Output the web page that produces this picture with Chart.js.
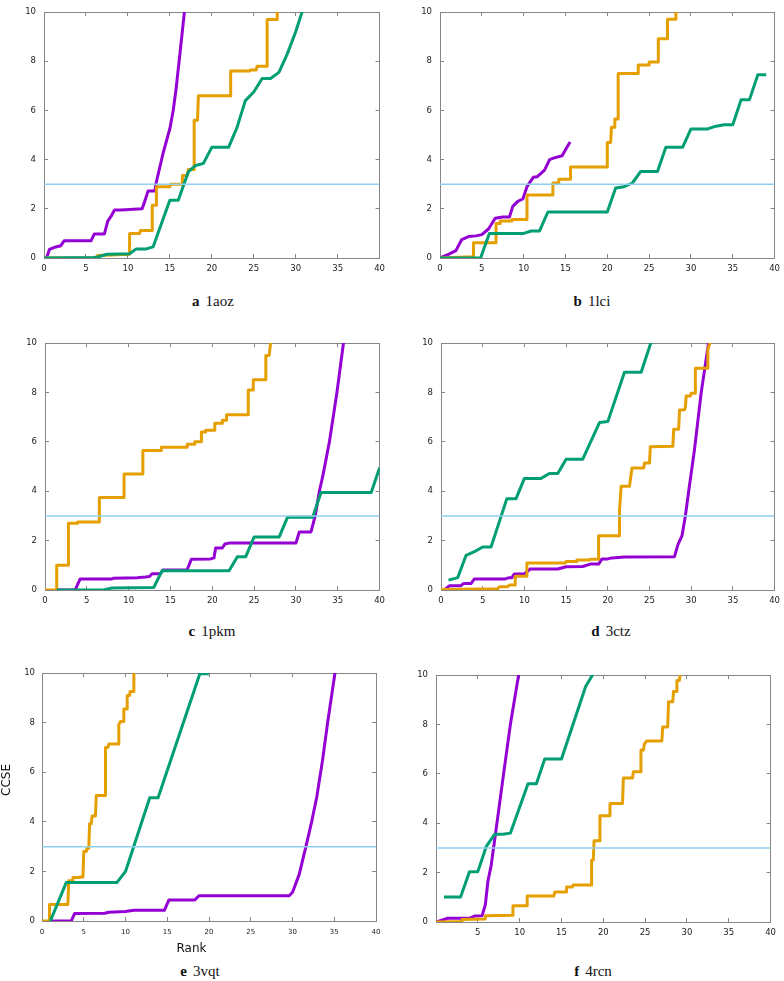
<!DOCTYPE html>
<html><head><meta charset="utf-8">
<script src="https://cdn.jsdelivr.net/npm/chart.js@4.4.0/dist/chart.umd.min.js"></script>
<style>
html,body{margin:0;padding:0;background:#fff;width:784px;height:981px;overflow:hidden;position:relative}
canvas{position:absolute}
.cap{position:absolute;width:200px;text-align:center;font-family:"Liberation Serif","DejaVu Serif",serif;font-size:15px;line-height:15px;color:#111;white-space:nowrap}
.cap b{font-weight:bold;margin-right:6px}
.lab{position:absolute;font-family:"DejaVu Sans",sans-serif;font-size:12px;line-height:12px;color:#111;text-align:center;white-space:nowrap}
</style></head><body>
<script>
// ---------- data (x = rank, y = CCSE) ----------
const xTicks = [0,5,10,15,20,25,30,35,40];
const yTicks = [0,2,4,6,8,10];
const threshold = 3;

const aPurple = [[0.3,0],[0.65,0.35],[1.4,0.45],[2.0,0.5],[2.4,0.7],[5.6,0.7],[6.0,0.98],[7.2,0.98],[7.6,1.5],[8.0,1.7],[8.4,1.95],[9.2,1.95],[11.7,2.0],[12.0,2.3],[12.4,2.72],[13.2,2.72],[13.4,3.1],[14.2,4.27],[15.0,5.26],[15.4,6.0],[15.75,6.9],[16.2,8.3],[16.75,10.05]];
const aOrange = [[0,0],[6.3,0],[6.4,0.1],[8,0.12],[10.2,0.15],[10.2,1.0],[11.4,1.0],[11.5,1.12],[12.9,1.12],[12.9,2.15],[13.4,2.15],[13.4,2.9],[15.0,2.9],[15.1,3.0],[16.5,3.0],[16.5,3.35],[17.1,3.35],[17.2,3.6],[17.9,3.6],[17.9,5.6],[18.3,5.6],[18.4,6.6],[22.2,6.6],[22.25,7.6],[24.5,7.6],[24.6,7.65],[25.3,7.65],[25.4,7.8],[26.6,7.8],[26.6,9.7],[27.8,9.7],[27.8,10.1]];
const aGreen = [[0,0],[6,0.02],[6.5,0.05],[7.5,0.15],[10.2,0.17],[11,0.37],[12.2,0.37],[13,0.45],[15,2.35],[16,2.35],[17.2,3.5],[18,3.75],[19,3.85],[20,4.5],[22,4.5],[23,5.3],[24,6.4],[25,6.75],[26,7.3],[27,7.3],[28,7.55],[29,8.3],[30,9.2],[30.8,10.05]];

const bPurple = [[0,0],[0.3,0.05],[1,0.15],[1.9,0.3],[2.6,0.75],[3.4,0.87],[4.3,0.9],[5.0,0.95],[5.8,1.18],[6.6,1.62],[7.5,1.67],[8.3,1.67],[8.7,2.1],[9.3,2.3],[9.9,2.4],[10.4,2.9],[11.15,3.28],[11.6,3.3],[12.5,3.57],[13.1,4.0],[13.65,4.07],[14.6,4.16],[15.0,4.4],[15.55,4.72]];
const bOrange = [[0,0],[4.0,0.05],[4.0,0.62],[6.7,0.62],[6.7,1.4],[7.2,1.4],[7.2,1.5],[8.5,1.5],[8.6,1.57],[10.4,1.57],[10.4,2.56],[13.5,2.56],[13.5,3.05],[14.2,3.05],[14.2,3.2],[15.6,3.2],[15.6,3.7],[20.0,3.7],[20.0,4.7],[20.4,4.7],[20.5,5.32],[20.9,5.32],[20.9,5.65],[21.3,5.65],[21.3,7.5],[23.7,7.5],[23.7,7.85],[25.0,7.85],[25.0,7.97],[26.1,7.97],[26.1,8.92],[27.2,8.92],[27.2,9.71],[28.1,9.71],[28.2,10.1]];
const bGreen = [[0,0],[4.85,0],[5.9,1.0],[10,1.0],[10.9,1.1],[11.9,1.1],[12.9,1.87],[20,1.87],[21,2.85],[22,2.9],[23,3.05],[24,3.52],[26,3.52],[27,4.5],[29,4.5],[30,5.25],[32,5.25],[33,5.36],[34,5.42],[35,5.42],[36,6.44],[37,6.44],[38,7.45],[39,7.45]];

const cOrange = [[0,0],[1.4,0],[1.4,1.0],[2.8,1.0],[2.8,2.7],[3.9,2.7],[3.9,2.75],[6.5,2.75],[6.5,3.75],[9.45,3.75],[9.45,4.7],[11.7,4.7],[11.7,5.65],[13.9,5.65],[13.9,5.78],[17.0,5.78],[17.0,5.9],[17.9,5.9],[17.9,6.0],[18.7,6.0],[18.7,6.4],[19.2,6.4],[19.2,6.47],[20.3,6.47],[20.3,6.75],[21.2,6.75],[21.2,6.88],[21.7,6.88],[21.7,7.1],[24.3,7.1],[24.3,8.1],[24.9,8.1],[24.9,8.52],[26.4,8.52],[26.4,9.5],[26.8,9.5],[27.0,10.1]];
const cPurple = [[1.4,0],[3.6,0],[4.2,0.45],[8.0,0.45],[8.2,0.48],[11,0.5],[12,0.53],[12.5,0.55],[12.8,0.66],[13.8,0.66],[14.1,0.81],[17.0,0.82],[17.5,1.25],[19.8,1.26],[20.2,1.3],[20.4,1.7],[21.2,1.7],[21.5,1.86],[22,1.9],[30,1.9],[30.4,2.35],[31.8,2.35],[32.3,3.0],[32.8,4.0],[33.2,4.6],[34.0,6.0],[34.9,8.0],[35.7,10.05]];
const cGreen = [[1.4,0],[7,0],[8,0.08],[13,0.1],[14,0.78],[22,0.78],[23,1.35],[24,1.35],[25,2.15],[28,2.15],[29,2.95],[32,2.95],[33,3.95],[39,3.95],[40,4.95]];

const dGreen = [[0.9,0.4],[2,0.5],[3,1.4],[4,1.55],[5,1.74],[6,1.74],[7.9,3.7],[9,3.7],[10,4.52],[12,4.52],[13,4.72],[14,4.72],[15,5.3],[17,5.3],[19,6.78],[20,6.82],[22,8.82],[24,8.82],[25.2,10.05]];
const dOrange = [[0,0.02],[6.8,0.05],[7.0,0.13],[8.0,0.13],[8.2,0.2],[8.9,0.2],[8.9,0.56],[10.3,0.56],[10.3,1.09],[14.9,1.09],[15,1.15],[16.3,1.15],[16.3,1.22],[17.8,1.22],[17.9,1.25],[18.9,1.25],[18.9,2.2],[21.35,2.2],[21.4,3.2],[21.6,4.2],[22.6,4.2],[22.9,4.94],[24.3,4.94],[24.4,5.14],[25.0,5.14],[25.1,5.8],[27.8,5.82],[27.9,6.51],[28.5,6.51],[28.6,7.29],[29.2,7.3],[29.3,7.4],[29.4,7.86],[29.9,7.86],[30.0,7.97],[30.5,7.97],[30.5,8.98],[31.9,8.98],[32.0,9.75],[32.3,10.05]];
const dPurple = [[0.4,0],[1.0,0.17],[2.35,0.17],[2.7,0.26],[3.6,0.26],[4.0,0.45],[7.7,0.45],[8.2,0.5],[8.5,0.5],[8.8,0.65],[10,0.65],[10.7,0.85],[14,0.85],[15,0.94],[17,0.95],[17.9,1.05],[18.9,1.05],[19.3,1.26],[20,1.26],[20.5,1.3],[22,1.34],[28,1.35],[28.4,1.83],[28.9,2.2],[29.3,3.0],[29.7,4.0],[30.4,5.7],[31.2,8.0],[32.1,10.05]];

const eOrange = [[0,0],[0.9,0],[0.9,0.67],[3.1,0.67],[3.2,1.62],[3.6,1.62],[3.7,1.75],[4.5,1.75],[4.5,1.77],[4.9,1.77],[5.0,2.8],[5.3,2.8],[5.4,2.93],[5.6,2.93],[5.7,3.92],[5.9,3.92],[6.0,4.24],[6.4,4.24],[6.5,5.06],[7.55,5.06],[7.6,7.0],[7.9,7.0],[8.0,7.14],[9.15,7.14],[9.2,7.92],[9.4,8.05],[9.75,8.05],[9.8,8.55],[10.2,8.55],[10.2,9.1],[10.5,9.1],[10.55,9.26],[10.9,9.26],[11.0,10.1]];
const eGreen = [[1.0,0],[2.9,1.55],[8.96,1.55],[10,2.0],[12.9,4.97],[13.9,4.97],[18.9,9.97],[20.0,9.97]];
const ePurple = [[1.0,0],[3.5,0],[3.9,0.3],[7.5,0.31],[8,0.35],[10,0.38],[11,0.43],[14.65,0.43],[15.2,0.85],[18.3,0.85],[18.8,1.02],[29.6,1.02],[30,1.16],[30.8,1.88],[31.6,3.0],[32.3,4.02],[32.9,5.0],[33.6,6.5],[34.2,8.0],[35.1,10.05]];

const fGreen = [[0.95,1.01],[2.94,1.01],[4,2.04],[5,2.04],[6,3.05],[7,3.55],[8,3.55],[8.9,3.6],[11,5.6],[12,5.6],[13,6.6],[15,6.6],[17.9,9.55],[18.8,10.05]];
const fPurple = [[0,0],[1.4,0.15],[4,0.15],[4.6,0.24],[5.5,0.25],[5.9,0.7],[6.2,1.64],[6.6,2.3],[6.9,3.05],[7.5,4.54],[8.1,6.05],[8.9,8.02],[9.9,10.05]];
const fOrange = [[0,0],[3,0.02],[3.1,0.1],[5.9,0.12],[5.9,0.25],[9.1,0.27],[9.2,0.66],[10.9,0.66],[10.9,1.05],[14.1,1.05],[14.2,1.22],[15.55,1.22],[15.6,1.42],[16.3,1.42],[16.4,1.5],[18.6,1.5],[18.6,2.5],[18.8,2.5],[18.9,3.29],[19.6,3.29],[19.6,4.3],[20.7,4.3],[20.8,4.8],[22.3,4.8],[22.4,5.83],[23.5,5.83],[23.6,6.09],[24.4,6.09],[24.5,6.97],[24.8,6.97],[24.9,7.2],[25.2,7.33],[27.0,7.33],[27.1,7.9],[27.7,7.9],[27.8,8.92],[28.3,8.92],[28.4,9.34],[28.7,9.34],[28.8,9.78],[29.1,9.78],[29.2,10.1]];

const panelLetters = ['a','b','c','d','e','f'];
const panelNames = ['1aoz','1lci','1pkm','3ctz','3vqt','4rcn'];
const xTitle = 'Rank';
const yTitle = 'CCSE';

// ---------- styles / layout ----------
const COL = {green:'#009e73', orange:'#e69f00', purple:'#9400d3', blue:'#8fd0f0'};
const AXC = '#858585';
const PT = 10, PR = 14;
const panels = [
  {g:{l:44, t:5,   w:337, h:253}, s:{green:aGreen, orange:aOrange, purple:aPurple}, cap:{cx:213, by:307}},
  {g:{l:440,t:5,   w:336, h:253}, s:{green:bGreen, orange:bOrange, purple:bPurple}, cap:{cx:592, by:307}},
  {g:{l:45, t:336, w:336, h:254}, s:{green:cGreen, orange:cOrange, purple:cPurple}, cap:{cx:212, by:637}},
  {g:{l:441,t:336, w:335, h:254}, s:{green:dGreen, orange:dOrange, purple:dPurple}, cap:{cx:611, by:637}},
  {g:{l:42, t:667, w:335, h:254}, s:{green:eGreen, orange:eOrange, purple:ePurple}, cap:{cx:200, by:977}, xfont:7, xpad:10.5, ypad:11},
  {g:{l:436,t:668, w:336, h:254}, s:{green:fGreen, orange:fOrange, purple:fPurple}, cap:{cx:593, by:977}, hideZero:true}
];

function axisCommon(){
  return {
    grid:{display:true, drawOnChartArea:false, drawTicks:true, tickLength:-4, color:AXC, lineWidth:1},
    border:{display:true, color:AXC, width:1}
  };
}

panels.forEach((p, i) => {
  const YW = 44, XH = 26;
  const cv = document.createElement('canvas');
  const W = YW + p.g.w + PR, H = PT + p.g.h + XH;
  cv.width = W; cv.height = H;
  cv.style.left = (p.g.l - YW) + 'px';
  cv.style.top = (p.g.t - PT) + 'px';
  cv.style.width = W + 'px'; cv.style.height = H + 'px';
  document.body.appendChild(cv);

  const ds = (data, color, width) => ({data, borderColor:color, backgroundColor:color, borderWidth:width,
    pointRadius:0, fill:false, tension:0, xAxisID:'x', yAxisID:'y', borderJoinStyle:'round', borderCapStyle:'butt'});

  const tickFont = {family:'DejaVu Sans', size:8.5};
  new Chart(cv, {
    type:'line',
    data:{datasets:[
      ds([[xTicks[0],threshold],[xTicks[xTicks.length-1],threshold]], COL.blue, 1.5),
      ds(p.s.green, COL.green, 3),
      ds(p.s.orange, COL.orange, 3),
      ds(p.s.purple, COL.purple, 3)
    ]},
    options:{
      responsive:false, animation:false, devicePixelRatio:1,
      layout:{padding:{top:PT, right:PR, left:0, bottom:0}},
      plugins:{legend:{display:false}, tooltip:{enabled:false}, title:{display:false}},
      scales:{
        x:Object.assign(axisCommon(), {type:'linear', position:'bottom', min:xTicks[0], max:xTicks[xTicks.length-1],
          ticks:{stepSize:5, color:'#222', font:{family:'DejaVu Sans', size:p.xfont||8.5}, padding:p.xpad||10, maxRotation:0,
            callback:(v)=> (p.hideZero && v===0) ? '' : v},
          afterFit:(s)=>{s.height=XH;}}),
        x2:Object.assign(axisCommon(), {type:'linear', position:'top', min:xTicks[0], max:xTicks[xTicks.length-1],
          ticks:{display:false, stepSize:5}, afterFit:(s)=>{s.height=0;}}),
        y:Object.assign(axisCommon(), {type:'linear', position:'left', min:yTicks[0], max:yTicks[yTicks.length-1],
          ticks:{stepSize:2, color:'#222', font:tickFont, padding:p.ypad||12},
          afterFit:(s)=>{s.width=YW;}}),
        y2:Object.assign(axisCommon(), {type:'linear', position:'right', min:yTicks[0], max:yTicks[yTicks.length-1],
          ticks:{display:false, stepSize:2}, afterFit:(s)=>{s.width=0;}})
      }
    }
  });

  const c = document.createElement('div');
  c.className = 'cap';
  c.style.left = (p.cap.cx - 100) + 'px';
  c.style.top = (p.cap.by - 12.6) + 'px';
  c.innerHTML = '<b>' + panelLetters[i] + '</b>' + panelNames[i];
  document.body.appendChild(c);
});

// axis titles (panel e)
const rk = document.createElement('div');
rk.className = 'lab'; rk.textContent = xTitle;
rk.style.left = (191.5 - 40) + 'px'; rk.style.width = '80px'; rk.style.top = (951.7 - 10.2) + 'px';
document.body.appendChild(rk);
const cc = document.createElement('div');
cc.className = 'lab'; cc.textContent = yTitle;
cc.style.left = (5.8 - 30) + 'px'; cc.style.width = '60px'; cc.style.top = (780 - 6) + 'px';
cc.style.transform = 'rotate(-90deg)';
document.body.appendChild(cc);
</script>
</body></html>
